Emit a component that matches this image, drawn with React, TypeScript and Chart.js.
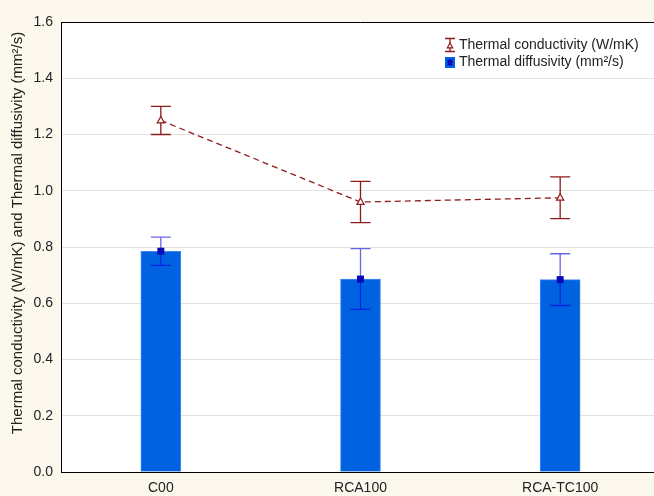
import { useEffect, useRef } from 'react';
import { Chart, registerables } from 'chart.js';

Chart.register(...registerables);

// Samples on the category axis
const categories = ['C00', 'RCA100', 'RCA-TC100'];

// Thermal conductivity (W/mK): mean and ± error
const conductivity = [1.25, 0.96, 0.975];
const conductivityErr = [0.05, 0.073, 0.074];

// Thermal diffusivity (mm²/s): mean and ± error
const diffusivity = [0.785, 0.686, 0.684];
const diffusivityErr = [0.05, 0.108, 0.092];

// Value axis range
const yMin = 0;
const yMax = 1.6;
const yStep = 0.2;

const FONT = '"Liberation Sans", Arial, sans-serif';
const PAGE_BG = '#fdf8ee';
const TEXT = '#222222';
const RED = '#8e1b1b';
const BAR_BLUE = '#0062e0';
const MARK_BLUE = '#0a0ab8';
const ERR_BLUE = 'rgba(0, 0, 220, 0.6)';
const LEGEND_1 = 'Thermal conductivity (W/mK)';
const LEGEND_2 = 'Thermal diffusivity (mm²/s)';
const Y_TITLE = 'Thermal conductivity (W/mK) and Thermal diffusivity (mm²/s)';

function drawErrorBar(ctx: CanvasRenderingContext2D, x: number, yTop: number, yBot: number, color: string, half: number) {
  ctx.strokeStyle = color;
  ctx.lineWidth = 1.3;
  ctx.beginPath();
  ctx.moveTo(x, yTop);
  ctx.lineTo(x, yBot);
  ctx.moveTo(x - half, yTop);
  ctx.lineTo(x + half, yTop);
  ctx.moveTo(x - half, yBot);
  ctx.lineTo(x + half, yBot);
  ctx.stroke();
}

function drawTriangle(ctx: CanvasRenderingContext2D, x: number, y: number, r: number, color: string) {
  ctx.strokeStyle = color;
  ctx.fillStyle = '#ffffff';
  ctx.lineWidth = 1.2;
  ctx.beginPath();
  ctx.moveTo(x, y - r);
  ctx.lineTo(x + r * 0.9, y + r * 0.6);
  ctx.lineTo(x - r * 0.9, y + r * 0.6);
  ctx.closePath();
  ctx.fill();
  ctx.stroke();
}

const decorPlugin = {
  id: 'decor',
  beforeDraw(chart: any) {
    const { ctx, chartArea: a, width, height } = chart;
    ctx.save();
    ctx.fillStyle = PAGE_BG;
    ctx.fillRect(0, 0, width, height);
    ctx.fillStyle = '#ffffff';
    ctx.fillRect(a.left, a.top, a.right - a.left, a.bottom - a.top);
    ctx.restore();
  },
  afterDatasetsDraw(chart: any) {
    const { ctx } = chart;
    const xs = chart.scales.x;
    const ys = chart.scales.y;
    ctx.save();
    categories.forEach((_, i) => {
      const px = xs.getPixelForValue(i);
      // diffusivity error bar and centre marker
      drawErrorBar(
        ctx,
        px,
        ys.getPixelForValue(diffusivity[i] + diffusivityErr[i]),
        ys.getPixelForValue(diffusivity[i] - diffusivityErr[i]),
        ERR_BLUE,
        10
      );
      const py = ys.getPixelForValue(diffusivity[i]);
      ctx.fillStyle = MARK_BLUE;
      ctx.fillRect(px - 3.5, py - 3.5, 7, 7);
      // conductivity error bar and triangle marker
      drawErrorBar(
        ctx,
        px,
        ys.getPixelForValue(conductivity[i] + conductivityErr[i]),
        ys.getPixelForValue(conductivity[i] - conductivityErr[i]),
        RED,
        10
      );
      drawTriangle(ctx, px, ys.getPixelForValue(conductivity[i]), 4, RED);
    });
    ctx.restore();
  },
  afterDraw(chart: any) {
    const { ctx, chartArea: a } = chart;
    ctx.save();
    // top frame line
    ctx.strokeStyle = '#000';
    ctx.lineWidth = 1;
    ctx.beginPath();
    ctx.moveTo(a.left, a.top + 0.5);
    ctx.lineTo(a.right, a.top + 0.5);
    ctx.stroke();

    // legend
    ctx.textBaseline = 'middle';
    ctx.textAlign = 'left';
    drawErrorBar(ctx, 450, 38.5, 51.5, RED, 5);
    drawTriangle(ctx, 450, 46, 3, RED);
    ctx.font = `14px ${FONT}`;
    ctx.fillStyle = TEXT;
    ctx.fillText(LEGEND_1, 459, 45);
    ctx.fillStyle = BAR_BLUE;
    ctx.fillRect(445, 57, 10, 11);
    ctx.fillStyle = MARK_BLUE;
    ctx.fillRect(447.5, 59.5, 5, 6);
    ctx.fillStyle = TEXT;
    ctx.fillText(LEGEND_2, 459, 62.5);

    // value axis title
    ctx.translate(18, 233);
    ctx.rotate(-Math.PI / 2);
    ctx.textAlign = 'center';
    ctx.font = `15px ${FONT}`;
    ctx.fillStyle = TEXT;
    ctx.fillText(Y_TITLE, 0, 0);
    ctx.restore();
  },
};

export default function App() {
  const canvasRef = useRef<HTMLCanvasElement | null>(null);

  useEffect(() => {
    if (!canvasRef.current) return;
    const chart = new Chart(canvasRef.current, {
      type: 'bar',
      data: {
        labels: categories,
        datasets: [
          {
            type: 'bar',
            label: LEGEND_2,
            data: diffusivity,
            backgroundColor: BAR_BLUE,
            borderColor: '#3f8af0',
            borderWidth: 1,
            barThickness: 40,
            order: 2,
          } as any,
          {
            type: 'line',
            label: LEGEND_1,
            data: conductivity,
            borderColor: RED,
            borderWidth: 1.3,
            borderDash: [6, 4],
            pointRadius: 0,
            fill: false,
            order: 1,
          } as any,
        ],
      },
      options: {
        animation: false,
        responsive: false,
        devicePixelRatio: 1,
        layout: { padding: { top: 22, left: 0, right: 0, bottom: 0 } },
        plugins: { legend: { display: false }, tooltip: { enabled: false } },
        scales: {
          x: {
            offset: true,
            grid: { display: false, drawTicks: false },
            border: { display: true, color: '#000', width: 1 },
            ticks: { color: TEXT, font: { family: FONT, size: 14 }, padding: 8 },
            afterFit: (s: any) => {
              s.height = 24;
            },
          },
          y: {
            min: yMin,
            max: yMax,
            grid: { color: '#e2e2e2', drawTicks: false },
            border: { display: true, color: '#000', width: 1 },
            ticks: {
              stepSize: yStep,
              color: TEXT,
              padding: 8,
              font: { family: FONT, size: 14 },
              callback: (v: any) => Number(v).toFixed(1),
            },
            afterFit: (s: any) => {
              s.width = 61;
            },
          },
        },
      },
      plugins: [decorPlugin],
    });
    return () => chart.destroy();
  }, []);

  return (
    <div
      style={{
        position: 'absolute',
        left: 0,
        top: 0,
        width: 654,
        height: 496,
        overflow: 'hidden',
        background: PAGE_BG,
      }}
    >
      <canvas ref={canvasRef} width={660} height={496} style={{ display: 'block' }} />
    </div>
  );
}
